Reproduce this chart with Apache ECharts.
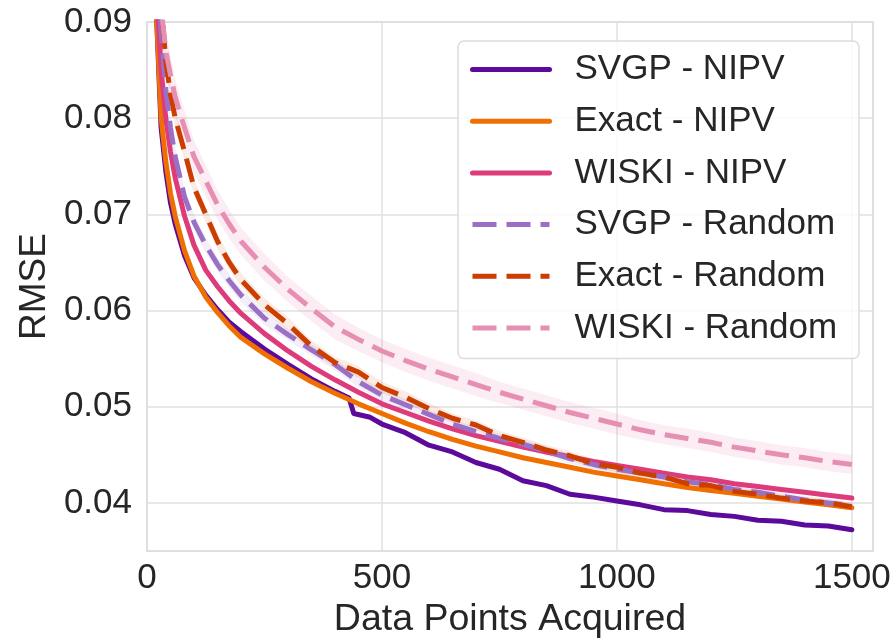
<!DOCTYPE html>
<html>
<head>
<meta charset="utf-8">
<script src="https://cdn.jsdelivr.net/npm/echarts@6/dist/echarts.min.js"></script>
<style>
  html, body { margin: 0; padding: 0; background: #fff; }
  #chart { width: 894px; height: 644px; }
</style>
</head>
<body>
<div id="chart"></div>
<script>
// number of acquired points (shared x for most runs)
var acquired = [10, 20, 30, 40, 50, 60, 80, 100, 125, 150, 175, 200, 250, 300, 350, 400, 450, 500,
  550, 600, 650, 700, 750, 800, 850, 900, 950, 1000, 1050, 1100, 1150, 1200, 1250, 1300, 1350, 1400, 1450, 1500];
// the SVGP NIPV run has a step near 440, so it gets its own x values
var acquiredSvgp = [10, 20, 30, 40, 50, 60, 80, 100, 125, 150, 175, 200, 250, 300, 350, 400, 430, 440, 475, 500,
  550, 600, 650, 700, 750, 800, 850, 900, 950, 1000, 1050, 1100, 1150, 1200, 1250, 1300, 1350, 1400, 1450, 1500];

var svgpNipv = [0.110, 0.091, 0.0790, 0.0745, 0.0712, 0.0690, 0.0657, 0.0634, 0.0616, 0.0601, 0.0588, 0.0578,
  0.0560, 0.0544, 0.0529, 0.0516, 0.0509, 0.0493, 0.0489, 0.0482,
  0.0473, 0.0460, 0.0453, 0.0442, 0.0435, 0.0423, 0.0418, 0.0409, 0.0406, 0.0402,
  0.0398, 0.0393, 0.0392, 0.0388, 0.0386, 0.0382, 0.0381, 0.0377, 0.0376, 0.0372];
var exactNipv = [0.108, 0.091, 0.0800, 0.0755, 0.0722, 0.0698, 0.0662, 0.0636, 0.0614, 0.0598, 0.0584, 0.0572,
  0.0555, 0.0540, 0.0526, 0.0514, 0.0503, 0.0493,
  0.0483, 0.0474, 0.0466, 0.0459, 0.0453, 0.0447, 0.0442, 0.0437, 0.0432, 0.0428,
  0.0424, 0.0420, 0.0416, 0.0413, 0.0410, 0.0407, 0.0404, 0.0401, 0.0398, 0.0395];
var wiskiNipv = [0.112, 0.094, 0.0850, 0.0800, 0.0765, 0.0738, 0.0698, 0.0668, 0.0642, 0.0625, 0.0610, 0.0597,
  0.0576, 0.0558, 0.0542, 0.0528, 0.0515, 0.0503,
  0.0494, 0.0485, 0.0477, 0.0470, 0.0464, 0.0458, 0.0453, 0.0448, 0.0443, 0.0439,
  0.0435, 0.0431, 0.0427, 0.0424, 0.0420, 0.0417, 0.0414, 0.0411, 0.0408, 0.0405];
var svgpRandom = [0.115, 0.098, 0.0890, 0.0830, 0.0790, 0.0760, 0.0718, 0.0692, 0.0668, 0.0648, 0.0631, 0.0616,
  0.0592, 0.0575, 0.0559, 0.0544, 0.0526, 0.0512,
  0.0502, 0.0492, 0.0482, 0.0474, 0.0467, 0.0461, 0.0454, 0.0446, 0.0440, 0.0435,
  0.0431, 0.0427, 0.0422, 0.0419, 0.0414, 0.0411, 0.0407, 0.0403, 0.0400, 0.0397];
var exactRandom = [0.125, 0.103, 0.0920, 0.0860, 0.0825, 0.0800, 0.0765, 0.0728, 0.0700, 0.0672, 0.0650, 0.0632,
  0.0606, 0.0586, 0.0563, 0.0546, 0.0536, 0.0520,
  0.0510, 0.0498, 0.0488, 0.0481, 0.0470, 0.0463, 0.0455, 0.0449, 0.0441, 0.0437,
  0.0431, 0.0427, 0.0420, 0.0418, 0.0412, 0.0409, 0.0405, 0.0402, 0.0400, 0.0396];
var wiskiRandom = [0.115, 0.100, 0.0915, 0.0870, 0.0845, 0.0822, 0.0790, 0.0760, 0.0735, 0.0710, 0.0690, 0.0672,
  0.0645, 0.0622, 0.0602, 0.0583, 0.0570, 0.0558,
  0.0548, 0.0539, 0.0531, 0.0523, 0.0515, 0.0508, 0.0501, 0.0494, 0.0488, 0.0482,
  0.0476, 0.0471, 0.0467, 0.0463, 0.0458, 0.0454, 0.0450, 0.0447, 0.0443, 0.0440];

// half width of the shaded spread around the random runs
var svgpRandomSpread = [0.002, 0.0015, 0.0012, 0.0010, 0.0009, 0.0009, 0.0008, 0.0008, 0.0008, 0.0007, 0.0007, 0.0007,
  0.0007, 0.0006, 0.0006, 0.0006, 0.0006, 0.0006,
  0.0006, 0.0005, 0.0005, 0.0005, 0.0005, 0.0005, 0.0005, 0.0005, 0.0005, 0.0005,
  0.0004, 0.0004, 0.0004, 0.0004, 0.0004, 0.0004, 0.0004, 0.0004, 0.0004, 0.0004];
var exactRandomSpread = [0.002, 0.0015, 0.0012, 0.0010, 0.0010, 0.0009, 0.0009, 0.0008, 0.0008, 0.0008, 0.0007, 0.0007,
  0.0007, 0.0007, 0.0006, 0.0006, 0.0006, 0.0006,
  0.0006, 0.0006, 0.0005, 0.0005, 0.0005, 0.0005, 0.0005, 0.0005, 0.0005, 0.0005,
  0.0005, 0.0004, 0.0004, 0.0004, 0.0004, 0.0004, 0.0004, 0.0004, 0.0004, 0.0004];
var wiskiRandomSpread = [0.004, 0.003, 0.0025, 0.0022, 0.0020, 0.0019, 0.0018, 0.0017, 0.0016, 0.0015, 0.0015, 0.0014,
  0.0014, 0.0013, 0.0013, 0.0013, 0.0012, 0.0012,
  0.0012, 0.0012, 0.0012, 0.0012, 0.0011, 0.0011, 0.0011, 0.0011, 0.0011, 0.0011,
  0.0010, 0.0010, 0.0010, 0.0010, 0.0010, 0.0010, 0.0010, 0.0010, 0.0010, 0.0010];

var xTicks = [0, 500, 1000, 1500];
var yTicks = [0.04, 0.05, 0.06, 0.07, 0.08, 0.09];

var fontFamily = '"Liberation Sans", Arial, sans-serif';
var textColor = '#262626';

function lineSeries(name, xs, ys, color, dashed) {
  return {
    name: name,
    type: 'line',
    symbol: 'none',
    showSymbol: false,
    z: 3,
    data: xs.map(function (x, i) { return [x, ys[i]]; }),
    lineStyle: {
      color: color,
      width: 5,
      type: dashed ? [24, 10] : 'solid',
      cap: dashed ? 'butt' : 'round',
      join: 'round'
    },
    itemStyle: { color: color },
    emphasis: { disabled: true }
  };
}

function bandSeries(xs, ys, spread, color) {
  return {
    type: 'custom',
    silent: true,
    clip: true,
    z: 1,
    data: xs.map(function (x, i) { return [x, ys[i] - spread[i], ys[i] + spread[i]]; }),
    encode: { x: 0, y: [1, 2] },
    renderItem: function (params, api) {
      if (params.dataIndex !== 0) return null;
      var upper = [], lower = [];
      for (var i = 0; i < xs.length; i++) {
        upper.push(api.coord([xs[i], ys[i] + spread[i]]));
        lower.unshift(api.coord([xs[i], ys[i] - spread[i]]));
      }
      var cs = params.coordSys;
      return {
        type: 'polygon',
        shape: { points: upper.concat(lower) },
        style: { fill: color },
        clipPath: { type: 'rect', shape: { x: cs.x, y: cs.y, width: cs.width, height: cs.height } }
      };
    }
  };
}

var chart = echarts.init(document.getElementById('chart'));

chart.setOption({
  animation: false,
  backgroundColor: '#ffffff',
  textStyle: { fontFamily: fontFamily },
  grid: {
    left: 147, right: 21, top: 22, bottom: 92,
    show: true,
    borderColor: '#d0d0d0',
    borderWidth: 1.5,
    backgroundColor: 'transparent'
  },
  legend: {
    data: ['SVGP - NIPV', 'Exact - NIPV', 'WISKI - NIPV', 'SVGP - Random', 'Exact - Random', 'WISKI - Random'],
    orient: 'vertical',
    left: 458,
    top: 41,
    padding: [11, 22, 13, 12],
    itemWidth: 77,
    itemHeight: 34,
    itemGap: 16.7,
    backgroundColor: 'rgba(255,255,255,0.8)',
    borderColor: '#dcdcdc',
    borderWidth: 1.5,
    borderRadius: 6,
    itemStyle: { opacity: 0 },
    lineStyle: { width: 5 },
    textStyle: {
      fontSize: 35,
      lineHeight: 34,
      color: textColor,
      fontFamily: fontFamily,
      padding: [0, 0, 0, 20]
    },
    selectedMode: false
  },
  xAxis: {
    type: 'value',
    min: 0,
    max: 1545,
    interval: 500,
    name: 'Data Points Acquired',
    nameLocation: 'middle',
    nameGap: 50,
    nameTextStyle: { fontSize: 37.5, color: textColor, fontFamily: fontFamily },
    axisLine: { show: false },
    axisTick: { show: false },
    axisLabel: {
      fontSize: 35,
      color: textColor,
      margin: 10,
      fontFamily: fontFamily,
      formatter: function (v) { return xTicks.indexOf(v) >= 0 ? String(v) : ''; }
    },
    splitLine: { show: true, lineStyle: { color: '#e0e0e0', width: 1.5 } }
  },
  yAxis: {
    type: 'value',
    min: 0.035,
    max: 0.09,
    splitNumber: 5,
    name: 'RMSE',
    nameLocation: 'middle',
    nameGap: 92,
    nameTextStyle: { fontSize: 37, color: textColor, fontFamily: fontFamily },
    axisLine: { show: false },
    axisTick: { show: false },
    axisLabel: {
      fontSize: 35,
      color: textColor,
      margin: 15,
      fontFamily: fontFamily,
      formatter: function (v) {
        for (var i = 0; i < yTicks.length; i++) {
          if (Math.abs(yTicks[i] - v) < 1e-9) return yTicks[i].toFixed(2);
        }
        return '';
      }
    },
    splitLine: { show: true, lineStyle: { color: '#e0e0e0', width: 1.5 } }
  },
  series: [
    bandSeries(acquired, svgpRandom, svgpRandomSpread, 'rgba(155,114,200,0.12)'),
    bandSeries(acquired, exactRandom, exactRandomSpread, 'rgba(204,61,0,0.10)'),
    bandSeries(acquired, wiskiRandom, wiskiRandomSpread, 'rgba(231,143,179,0.16)'),
    lineSeries('SVGP - NIPV', acquiredSvgp, svgpNipv, '#5b0a9c', false),
    lineSeries('Exact - NIPV', acquired, exactNipv, '#ef6f00', false),
    lineSeries('WISKI - NIPV', acquired, wiskiNipv, '#dd3b7a', false),
    lineSeries('SVGP - Random', acquired, svgpRandom, '#9a70c6', true),
    lineSeries('Exact - Random', acquired, exactRandom, '#cc3d00', true),
    lineSeries('WISKI - Random', acquired, wiskiRandom, '#e78fb3', true)
  ]
});
</script>
</body>
</html>
